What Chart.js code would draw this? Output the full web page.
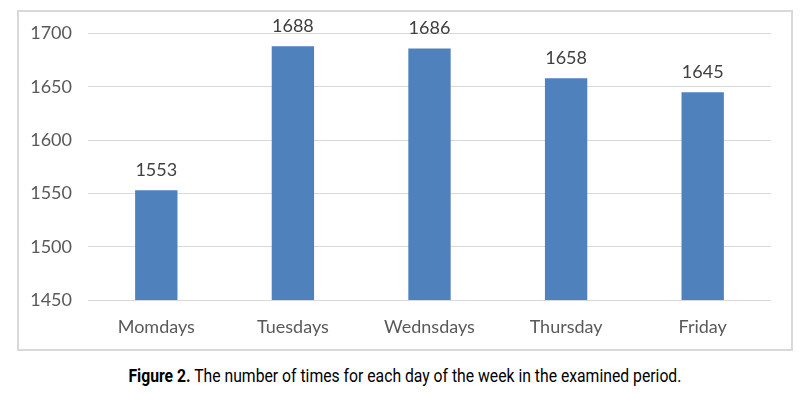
<!DOCTYPE html>
<html>
<head>
<meta charset="utf-8">
<script src="https://cdn.jsdelivr.net/npm/chart.js@4"></script>
<style>
  body { margin: 0; background: #fff; width: 809px; height: 393px; position: relative; }
  #box { position: absolute; left: 17px; top: 10px; width: 772px; height: 337px; border: 2px solid #d9d9d9; }
  #caption { position: absolute; left: 0; width: 809px; top: 364px; text-align: center; }
  #caption span { display: inline-block; white-space: nowrap; transform-origin: center;
    font-family: "Roboto", sans-serif; font-size: 19px; color: #000; }
</style>
</head>
<body>
<div id="box"><canvas id="myChart" width="772" height="337"></canvas></div>
<div id="caption"><span id="capText"><b>Figure 2.</b> The number of times for each day of the week in the examined period.</span></div>
<script>
const days = ["Momdays", "Tuesdays", "Wednsdays", "Thursday", "Friday"];
const counts = [1553, 1688, 1686, 1658, 1645];
const yTicks = [1450, 1500, 1550, 1600, 1650, 1700];

// squeeze the caption to the narrow look of the original
const cap = document.getElementById("capText");
cap.style.transform = `scaleX(${553 / cap.getBoundingClientRect().width})`;

const labelFont = "Lato, 'Open Sans', sans-serif";

const valueLabels = {
  id: "valueLabels",
  afterDatasetsDraw(chart) {
    const ctx = chart.ctx;
    const meta = chart.getDatasetMeta(0);
    ctx.save();
    ctx.font = `18px ${labelFont}`;
    ctx.fillStyle = "#404040";
    ctx.textAlign = "center";
    ctx.textBaseline = "alphabetic";
    meta.data.forEach((bar, i) => {
      ctx.fillText(counts[i], bar.x, bar.y - 14);
    });
    ctx.restore();
  },
};

const ctx = document.getElementById("myChart").getContext("2d");
new Chart(ctx, {
  type: "bar",
  data: {
    labels: days,
    datasets: [
      {
        data: counts,
        backgroundColor: "#4f81bd",
        barPercentage: 0.31,
        categoryPercentage: 1,
      },
    ],
  },
  options: {
    responsive: false,
    animation: false,
    layout: { padding: { top: 21.5, right: 20, left: 0, bottom: 0 } },
    plugins: { legend: { display: false }, tooltip: { enabled: false } },
    scales: {
      x: {
        grid: { display: false, drawTicks: false },
        border: { display: false },
        ticks: { color: "#595959", font: { family: labelFont, size: 18 }, padding: 16 },
        afterFit(scale) { scale.height = 49; scale.paddingLeft = 0; scale.paddingRight = 0; },
      },
      y: {
        min: 1450,
        max: 1700,
        afterBuildTicks(scale) { scale.ticks = yTicks.map((v) => ({ value: v })); },
        grid: { color: "#d9d9d9", drawTicks: false },
        border: { display: false },
        ticks: {
          color: "#595959",
          font: { family: labelFont, size: 18 },
          padding: 16,
          callback: (v) => String(v),
        },
        afterFit(scale) { scale.width = 69; scale.paddingTop = 0; scale.paddingBottom = 0; },
      },
    },
  },
  plugins: [valueLabels],
});
</script>
</body>
</html>
